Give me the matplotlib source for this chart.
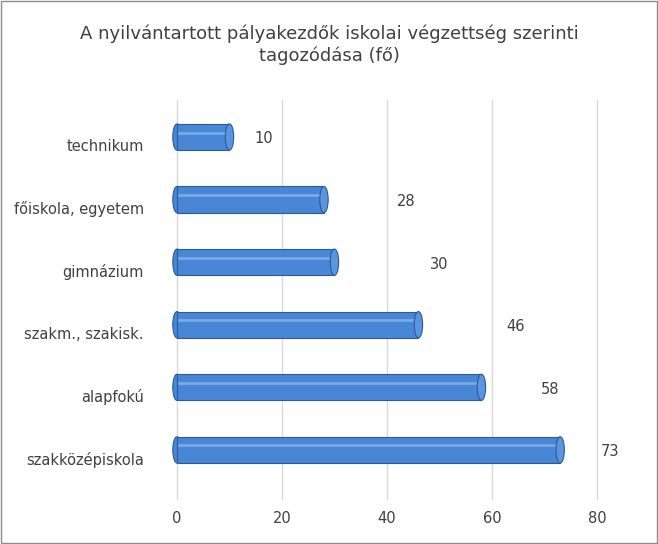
import matplotlib
matplotlib.use("Agg")
import matplotlib.pyplot as plt
from matplotlib.patches import Ellipse, Rectangle

categories = ["szakközépiskola", "alapfokú", "szakm., szakisk.", "gimnázium",
              "főiskola, egyetem", "technikum"]
values = [73, 58, 46, 30, 28, 10]
label_x = [82.5, 71, 64.5, 50, 43.7, 16.5]  # where Excel placed the data labels

BLUE = "#4A86D6"
EDGE = "#2C5A99"

fig = plt.figure(figsize=(6.58, 5.44), dpi=100)
fig.patches.append(Rectangle((0.002, 0.002), 0.996, 0.996, transform=fig.transFigure,
                             fill=False, ec="#8c8c8c", lw=1))
ax = fig.add_axes([0.261, 0.081, 0.694, 0.735])

y = list(range(len(categories)))
h = 0.42
ax.barh(y, values, height=h, color=BLUE, edgecolor=EDGE, lw=0.8, zorder=3)
for yi, v in zip(y, values):
    ax.add_patch(Ellipse((v, yi), 1.6, h, fc="#5B95E0", ec=EDGE, lw=0.8, zorder=4))
    ax.add_patch(Ellipse((0, yi), 1.6, h, fc=BLUE, ec=EDGE, lw=0.8, zorder=2))
    ax.plot([0.3, v - 0.6], [yi + 0.07, yi + 0.07], color="#8DB8EE", lw=2, alpha=0.7, zorder=3.5)
for yi, v, lx in zip(y, values, label_x):
    ax.text(lx, yi - 0.03, str(v), ha="center", va="center", fontsize=10.5, color="#404040")

ax.set_xlim(-1, 86)
ax.set_ylim(-0.8, 5.59)
ax.set_xticks([0, 20, 40, 60, 80])
ax.set_yticks([yi - 0.13 for yi in y])
ax.set_yticklabels(categories)
ax.tick_params(axis="y", length=0, labelsize=10.5, colors="#404040", pad=20)
ax.tick_params(axis="x", length=0, labelsize=10.5, colors="#404040", pad=8)
ax.grid(axis="x", color="#d9d9d9", lw=1, zorder=0)
for s in ax.spines.values():
    s.set_visible(False)

fig.text(0.5, 0.918, "A nyilvántartott pályakezdők iskolai végzettség szerinti\ntagozódása (fő)",
         ha="center", va="center", fontsize=13, color="#404040", linespacing=1.2)

fig.savefig("out.png", dpi=100)
